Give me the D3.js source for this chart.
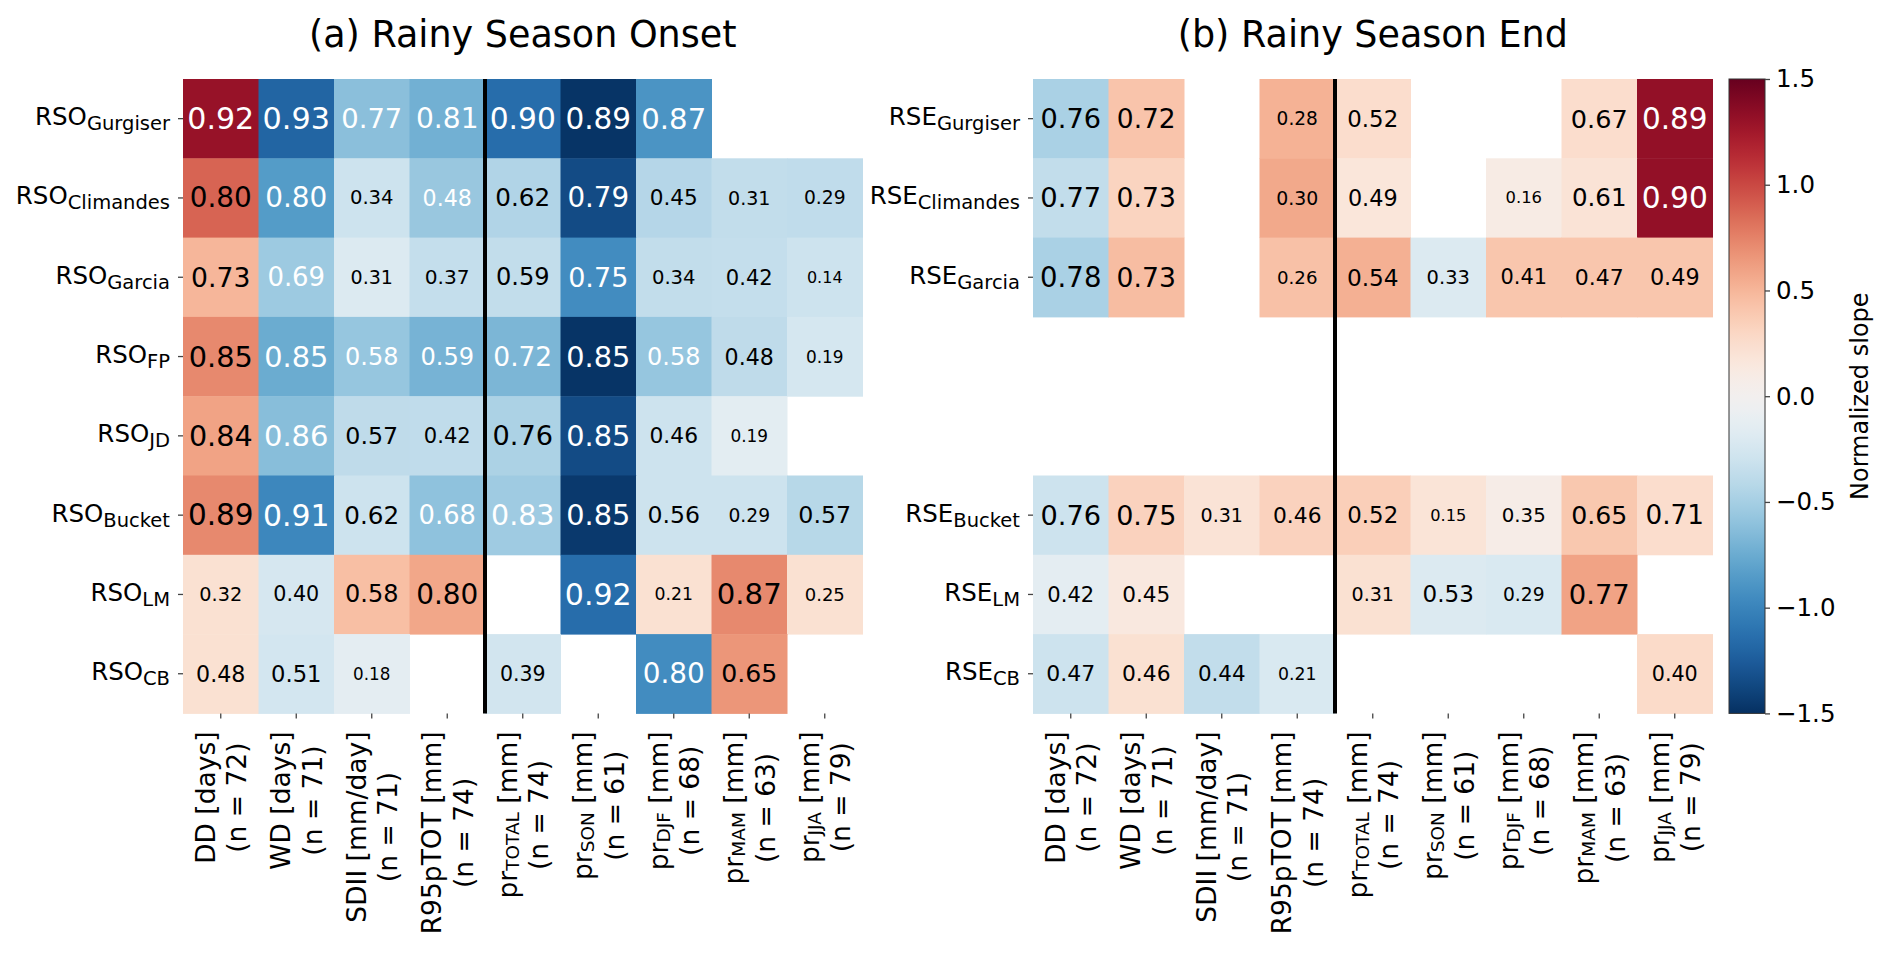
<!DOCTYPE html>
<html>
<head>
<meta charset="utf-8">
<script src="https://cdnjs.cloudflare.com/ajax/libs/d3/7.8.5/d3.min.js"></script>
<style>
  body { margin: 0; background: #fff; }
  text { font-family: "DejaVu Sans", sans-serif; }
</style>
</head>
<body>
<div class="chart"></div>
<script>
// columns (same for both panels)
const colNames = ["DD", "WD", "SDII", "R95pTOT", "pr", "pr", "pr", "pr", "pr"];
const colSubs  = ["", "", "", "", "TOTAL", "SON", "DJF", "MAM", "JJA"];
const colUnits = ["[days]", "[days]", "[mm/day]", "[mm]", "[mm]", "[mm]", "[mm]", "[mm]", "[mm]"];
const colN     = [72, 71, 71, 74, 74, 61, 68, 63, 79];

// rows
const rsoRows = ["Gurgiser", "Climandes", "Garcia", "FP", "JD", "Bucket", "LM", "CB"];
const rseRows = ["Gurgiser", "Climandes", "Garcia", "", "", "Bucket", "LM", "CB"];

// correlation values written in the cells
const rsoR = [
  [0.92, 0.93, 0.77, 0.81, 0.90, 0.89, 0.87, null, null],
  [0.80, 0.80, 0.34, 0.48, 0.62, 0.79, 0.45, 0.31, 0.29],
  [0.73, 0.69, 0.31, 0.37, 0.59, 0.75, 0.34, 0.42, 0.14],
  [0.85, 0.85, 0.58, 0.59, 0.72, 0.85, 0.58, 0.48, 0.19],
  [0.84, 0.86, 0.57, 0.42, 0.76, 0.85, 0.46, 0.19, null],
  [0.89, 0.91, 0.62, 0.68, 0.83, 0.85, 0.56, 0.29, 0.57],
  [0.32, 0.40, 0.58, 0.80, null, 0.92, 0.21, 0.87, 0.25],
  [0.48, 0.51, 0.18, null, 0.39, null, 0.80, 0.65, null]
];
// normalized slopes (cell colour)
const rsoSlope = [
  [1.30, -1.20, -0.62, -0.72, -1.15, -1.48, -0.90, null, null],
  [0.88, -0.85, -0.30, -0.56, -0.45, -1.35, -0.43, -0.36, -0.37],
  [0.50, -0.54, -0.20, -0.35, -0.36, -0.95, -0.36, -0.35, -0.30],
  [0.72, -0.75, -0.57, -0.70, -0.68, -1.48, -0.57, -0.38, -0.25],
  [0.60, -0.63, -0.38, -0.37, -0.47, -1.35, -0.30, -0.15, null],
  [0.72, -0.98, -0.30, -0.60, -0.53, -1.45, -0.30, -0.30, -0.42],
  [0.22, -0.24, 0.45, 0.58, null, -1.15, 0.22, 0.72, 0.22],
  [0.22, -0.26, -0.14, null, -0.27, null, -0.95, 0.66, null]
];
const rseR = [
  [0.76, 0.72, null, 0.28, 0.52, null, null, 0.67, 0.89],
  [0.77, 0.73, null, 0.30, 0.49, null, 0.16, 0.61, 0.90],
  [0.78, 0.73, null, 0.26, 0.54, 0.33, 0.41, 0.47, 0.49],
  [null, null, null, null, null, null, null, null, null],
  [null, null, null, null, null, null, null, null, null],
  [0.76, 0.75, 0.31, 0.46, 0.52, 0.15, 0.35, 0.65, 0.71],
  [0.42, 0.45, null, null, 0.31, 0.53, 0.29, 0.77, null],
  [0.47, 0.46, 0.44, 0.21, null, null, null, null, 0.40]
];
const rseSlope = [
  [-0.48, 0.42, null, 0.52, 0.25, null, null, 0.25, 1.32],
  [-0.36, 0.32, null, 0.57, 0.17, null, 0.10, 0.20, 1.32],
  [-0.48, 0.46, null, 0.44, 0.53, -0.20, 0.41, 0.41, 0.41],
  [null, null, null, null, null, null, null, null, null],
  [null, null, null, null, null, null, null, null, null],
  [-0.30, 0.33, 0.20, 0.33, 0.35, 0.19, 0.08, 0.40, 0.25],
  [-0.14, 0.14, null, null, 0.22, -0.20, -0.22, 0.60, null],
  [-0.30, 0.22, -0.36, -0.22, null, null, null, null, 0.27]
];
const cbTicks = [-1.5, -1.0, -0.5, 0.0, 0.5, 1.0, 1.5];

const W = 1892, H = 953;
const plotTop = 79, cellW = 75.5, cellH = 79.3;

const svg = d3.select(".chart").append("svg")
    .attr("width", W)
    .attr("height", H);

const color = d3.scaleSequential(d3.interpolateRdBu).domain([1.5, -1.5]);

function drawPanel(prefix, rows, rVals, slopes, title, x0) {
  const g = svg.append("g");
  const x = d3.scaleBand().domain(d3.range(colNames.length)).range([x0, x0 + cellW * colNames.length]);
  const y = d3.scaleBand().domain(d3.range(rows.length)).range([plotTop, plotTop + cellH * rows.length]);
  const bottom = plotTop + cellH * rows.length;

  const cells = [];
  rVals.forEach((row, i) => row.forEach((v, j) => {
    if (v != null) cells.push({i: i, j: j, r: v, s: slopes[i][j]});
  }));

  g.selectAll("rect.cell")
    .data(cells)
    .enter()
    .append("rect")
    .attr("class", "cell")
    .attr("x", d => x(d.j))
    .attr("y", d => y(d.i))
    .attr("width", x.bandwidth() + 0.5)
    .attr("height", y.bandwidth() + 0.5)
    .style("fill", d => color(d.s));

  g.selectAll("text.val")
    .data(cells)
    .enter()
    .append("text")
    .attr("class", "val")
    .attr("x", d => x(d.j) + x.bandwidth() / 2)
    .attr("y", d => y(d.i) + y.bandwidth() / 2)
    .attr("text-anchor", "middle")
    .attr("dominant-baseline", "central")
    .attr("font-size", d => 13.5 + 18 * d.r)
    .style("fill", d => (d.s < -0.5 || d.s > 1.1) ? "#fff" : "#000")
    .text(d => d.r.toFixed(2));

  // separator between indices and seasonal precipitation
  g.append("line")
    .attr("x1", x(4)).attr("x2", x(4))
    .attr("y1", plotTop).attr("y2", bottom)
    .style("stroke", "#000")
    .style("stroke-width", 4);

  // y axis
  const yAxis = g.append("g")
    .attr("transform", `translate(${x0},0)`)
    .call(d3.axisLeft(y).tickSize(5).tickPadding(8).tickFormat(""));
  yAxis.select(".domain").remove();
  yAxis.selectAll(".tick").each(function(d) {
    const t = d3.select(this);
    if (rows[d] === "") { t.remove(); return; }
    t.select("line").style("stroke", "#444").style("stroke-width", 1.3);
    const txt = t.select("text")
      .attr("font-size", 24.5)
      .attr("dy", "0.26em")
      .style("fill", "#000");
    txt.append("tspan").text(prefix);
    txt.append("tspan").attr("font-size", 19.5).attr("dy", 5).text(rows[d]);
  });

  // x axis
  const xAxis = g.append("g")
    .attr("transform", `translate(0,${bottom})`)
    .call(d3.axisBottom(x).tickSize(5).tickFormat(""));
  xAxis.select(".domain").remove();
  xAxis.selectAll(".tick line").style("stroke", "#444").style("stroke-width", 1.3);
  xAxis.selectAll(".tick text").remove();

  colNames.forEach((name, j) => {
    const lab = g.append("g")
      .attr("transform", `translate(${x(j) + x.bandwidth() / 2},${bottom + 18}) rotate(-90)`);
    const l1 = lab.append("text")
      .attr("font-size", 26.5)
      .attr("y", -16)
      .attr("dominant-baseline", "central")
      .attr("text-anchor", "middle");
    l1.append("tspan").text(name);
    if (colSubs[j]) {
      l1.append("tspan").attr("font-size", 18.5).attr("dy", 5).text(colSubs[j]);
      l1.append("tspan").attr("dy", -5).text(" " + colUnits[j]);
    } else {
      l1.append("tspan").text(" " + colUnits[j]);
    }
    const l2 = lab.append("text")
      .attr("font-size", 26.5)
      .attr("y", 16)
      .attr("dominant-baseline", "central")
      .attr("text-anchor", "middle")
      .text("(n = " + colN[j] + ")");
    const w = Math.max(l1.node().getComputedTextLength(), l2.node().getComputedTextLength());
    l1.attr("x", -w / 2);
    l2.attr("x", -w / 2);
  });

  svg.append("text")
    .attr("x", x0 + cellW * colNames.length / 2)
    .attr("y", 47)
    .attr("text-anchor", "middle")
    .attr("font-size", 36.5)
    .text(title);
}

drawPanel("RSO", rsoRows, rsoR, rsoSlope, "(a) Rainy Season Onset", 183);
drawPanel("RSE", rseRows, rseR, rseSlope, "(b) Rainy Season End", 1033);

// colorbar
const cbX = 1729, cbW = 36;
const cbScale = d3.scaleLinear().domain([-1.5, 1.5]).range([plotTop + cellH * 8, plotTop]);

const grad = svg.append("defs").append("linearGradient")
    .attr("id", "cbgrad")
    .attr("x1", 0).attr("y1", 1).attr("x2", 0).attr("y2", 0);
d3.range(0, 1.001, 0.02).forEach(t => {
  grad.append("stop")
    .attr("offset", t)
    .attr("stop-color", color(-1.5 + 3 * t));
});

svg.append("rect")
  .attr("x", cbX)
  .attr("y", plotTop)
  .attr("width", cbW)
  .attr("height", cellH * 8)
  .style("fill", "url(#cbgrad)")
  .style("stroke", "#333")
  .style("stroke-width", 1);

const cbAxis = svg.append("g")
  .attr("transform", `translate(${cbX + cbW},0)`)
  .call(d3.axisRight(cbScale).tickValues(cbTicks).tickSize(5).tickPadding(6).tickFormat(d3.format(".1f")));
cbAxis.select(".domain").remove();
cbAxis.selectAll(".tick line").style("stroke", "#444").style("stroke-width", 1.3);
cbAxis.selectAll(".tick text").attr("font-size", 24.5).style("fill", "#000");

svg.append("text")
  .attr("transform", `translate(1860,${plotTop + cellH * 4}) rotate(-90)`)
  .attr("text-anchor", "middle")
  .attr("dominant-baseline", "central")
  .attr("font-size", 24)
  .text("Normalized slope");
</script>
</body>
</html>
